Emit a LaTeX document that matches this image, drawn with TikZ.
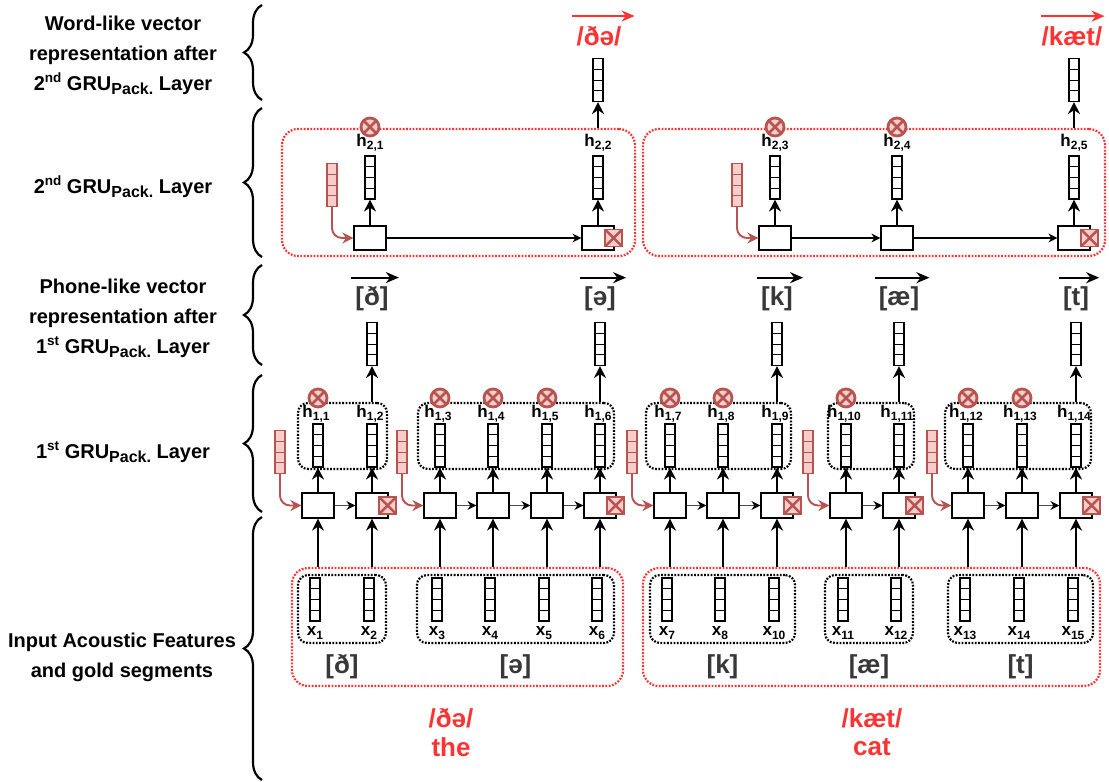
\documentclass[tikz,border=0pt]{standalone}
\usepackage{fontspec}
\setmainfont{Liberation Sans}
\usepackage{tikz}
\usetikzlibrary{arrows.meta, positioning, fit, decorations.pathreplacing}
\definecolor{darkred}{HTML}{B85450}
\definecolor{pinkfill}{HTML}{F8CECC}
\definecolor{wordred}{HTML}{FF3333}
\definecolor{phonegray}{HTML}{383838}
\newcommand{\vsub}[2]{#1\raisebox{-3.5pt}{\fontsize{12}{12}\selectfont #2}}
\newcommand{\supx}[1]{\raisebox{8pt}{\fontsize{13.5}{13.5}\selectfont #1}}
\newcommand{\subx}[1]{\raisebox{-4pt}{\fontsize{16}{16}\selectfont #1}}
\tikzset{
  gru cell/.style={
    draw, line width=1.2pt, fill=white,
    minimum width=32pt, minimum height=25pt, inner sep=0pt
  },
  vecbase/.style={
    draw=#1, line width=1.1pt,
    minimum width=10pt, minimum height=43pt, inner sep=0pt,
    path picture={
      \foreach \k in {1,2,3}
        \draw[#1, line width=1pt] ([yshift=-\k*10.75pt]path picture bounding box.north west)
          -- ([yshift=-\k*10.75pt]path picture bounding box.north east);
    }
  },
  vec/.style={vecbase=black, fill=white},
  init vec/.style={vecbase=darkred, fill=pinkfill},
  drop/.style={
    circle, draw=darkred, fill=pinkfill, line width=2.8pt,
    minimum size=18pt, inner sep=0pt,
    path picture={
      \draw[darkred, line width=2.8pt]
        (path picture bounding box.north west) -- (path picture bounding box.south east)
        (path picture bounding box.north east) -- (path picture bounding box.south west);
    }
  },
  reset/.style={
    draw=darkred, fill=pinkfill, line width=1.8pt,
    minimum size=17pt, inner sep=0pt,
    path picture={
      \draw[darkred, line width=2.4pt]
        (path picture bounding box.north west) -- (path picture bounding box.south east)
        (path picture bounding box.north east) -- (path picture bounding box.south west);
    }
  },
  up arr/.style={-{Stealth[length=12pt, width=12pt]}, line width=1.9pt},
  rec arr/.style={-{Stealth[length=9pt, width=9pt, color=black]}, line width=1.4pt, draw=black!70},
  top arr/.style={-{Stealth[length=9pt, width=9pt]}, line width=1.2pt},
  init arr/.style={-{Stealth[length=11pt, width=11pt]}, line width=1.9pt, darkred, rounded corners=10pt},
  over arr/.style={-{Stealth[length=13pt, width=11pt]}, line width=2pt},
  phone box/.style={draw, line width=2.2pt, dash pattern=on 1.8pt off 1.5pt, rounded corners=10pt, inner sep=0pt},
  word box/.style={draw=wordred, line width=2.2pt, dash pattern=on 1.8pt off 1.5pt, rounded corners=16pt, inner sep=0pt},
  side label/.style={font=\fontsize{20}{30}\selectfont\bfseries, align=center},
  side brace/.style={decorate, decoration={brace, amplitude=18pt}, line width=2.2pt},
  h label/.style={font=\fontsize{17}{17}\selectfont\bfseries, inner sep=0pt},
  phone label/.style={font=\fontsize{26}{26}\selectfont\bfseries, text=phonegray, inner sep=0pt},
  word label/.style={font=\fontsize{26}{26}\selectfont\bfseries, text=wordred, inner sep=0pt}
}

\begin{document}
\begin{tikzpicture}[x=1pt, y=-1pt]
  \useasboundingbox (0,0) rectangle (1109,782);

  % Side labels and braces
  \node[side label] (s1) at (123,55) {Word-like vector\\representation after\\2\supx{nd} GRU\subx{Pack.} Layer};
  \node[side label] (s2) at (123,187) {2\supx{nd} GRU\subx{Pack.} Layer};
  \node[side label] (s3) at (123,318) {Phone-like vector\\representation after\\1\supx{st} GRU\subx{Pack.} Layer};
  \node[side label] (s4) at (123,452) {1\supx{st} GRU\subx{Pack.} Layer};
  \node[side label] (s5) at (122,657) {Input Acoustic Features\\and gold segments};
  \draw[side brace] (262,100) -- (262,5);
  \draw[side brace] (262,257) -- (262,108);
  \draw[side brace] (262,365) -- (262,265);
  \draw[side brace] (262,512) -- (262,375);
  \draw[side brace] (262,780) -- (262,517);

  % Word and phone boxes
  \node[word box, fit={(282,129) (635,256)}] (r1) {};
  \node[word box, fit={(643,129) (1105,256)}] (r2) {};
  \node[phone box, fit={(298,403) (387,469)}] (g1) {};
  \node[phone box, fit={(418,403) (614,469)}] (g2) {};
  \node[phone box, fit={(646,403) (791,469)}] (g3) {};
  \node[phone box, fit={(828,403) (914,469)}] (g4) {};
  \node[phone box, fit={(945,403) (1091,469)}] (g5) {};
  \node[word box, fit={(292,568) (623,686)}] (w1) {};
  \node[word box, fit={(643,568) (1100,686)}] (w2) {};
  \node[phone box, fit={(298,575) (386,643)}] (b1) {};
  \node[phone box, fit={(417,575) (614,643)}] (b2) {};
  \node[phone box, fit={(650,575) (795,643)}] (b3) {};
  \node[phone box, fit={(825,575) (913,643)}] (b4) {};
  \node[phone box, fit={(948,575) (1093,643)}] (b5) {};

  % 1st layer: cells, hidden states, inputs
  \foreach \i/\x/\n in {1/318/1, 2/372/2, 3/440/3, 4/493/4, 5/547/5, 6/600/6, 7/670/7,
      8/723/8, 9/777/10, 10/846/11, 11/899/12, 12/968/13, 13/1022/14, 14/1076/15} {
    \node[gru cell] (c\i) at (\x,505.5) {};
    \node[vec] (h\i) at (\x,445.5) {};
    \node[h label] (hl\i) at (\x-2,414) {\vsub{h}{1,\i}};
    \node[vec] (x\i) at (\x-3,599.5) {};
    \node[h label] (xl\i) at (\x-3,633) {\vsub{x}{\n}};
    \draw[up arr] (c\i.north) -- (h\i.south);
    \draw[up arr] (c\i |- w1.north) -- (c\i.south);
  }
  \foreach \a/\b in {1/2, 3/4, 4/5, 5/6, 7/8, 8/9, 10/11, 12/13, 13/14}
    \draw[rec arr] (c\a) -- (c\b);
  \foreach \a/\p in {1/280, 3/402, 7/632, 10/808, 12/932} {
    \node[init vec] (p\a) at (\p,452) {};
    \draw[init arr] (p\a.south) |- (c\a.west);
  }
  \foreach \i in {1,3,4,5,7,8,10,12,13}
    \node[drop] at (c\i |- 0,398) {};

  % Phone-like outputs
  \foreach \b/\g/\ph in {2/1/ð, 6/2/ə, 9/3/k, 11/4/æ, 14/5/t} {
    \node[reset] at ([xshift=-1pt]c\b.east) {};
    \node[vec] (o\b) at (c\b |- 0,344) {};
    \draw[up arr] (c\b |- g\g.north) -- (o\b.south);
    \node[phone label] (ol\b) at (c\b |- 0,299) {[\ph]};
    \draw[over arr] ([xshift=-4pt, yshift=9pt]ol\b.north west) -- ([xshift=10pt, yshift=9pt]ol\b.north east);
  }

  % Gold segments
  \node[phone label, below=10pt of b1] {[ð]};
  \node[phone label, below=10pt of b2] {[ə]};
  \node[phone label, below=10pt of b3] {[k]};
  \node[phone label, below=10pt of b4] {[æ]};
  \node[phone label, below=10pt of b5] {[t]};
  \node[word label] (wt1) at (451,718) {/ðə/};
  \node[word label] at (451,747) {the};
  \node[word label] (wt2) at (872,718) {/kæt/};
  \node[word label] at (872,747) {cat};

  % 2nd layer
  \foreach \j/\x in {1/370, 2/598, 3/775, 4/897, 5/1074} {
    \node[gru cell, minimum height=24pt] (d\j) at (\x,238) {};
    \node[vec] (k\j) at (\x,177.5) {};
    \node[h label] at (\x,143) {\vsub{h}{2,\j}};
    \draw[up arr] (d\j.north) -- (k\j.south);
  }
  \draw[top arr] (d1) -- (d2);
  \draw[top arr] (d3) -- (d4);
  \draw[top arr] (d4) -- (d5);
  \node[init vec] (q1) at (332,185) {};
  \node[init vec] (q3) at (737,185) {};
  \draw[init arr] (q1.south) |- (d1.west);
  \draw[init arr] (q3.south) |- (d3.west);
  \node[reset] at ([xshift=-1pt]d2.east) {};
  \node[reset] at ([xshift=-1pt]d5.east) {};
  \foreach \j in {1,3,4}
    \node[drop] at (d\j |- 0,127) {};

  % Word-like outputs
  \node[vec] (v2) at (598,80) {};
  \node[vec] (v5) at (1074,80) {};
  \draw[up arr] (d2 |- r1.north) -- (v2.south);
  \draw[up arr] (d5 |- r2.north) -- (v5.south);
  \node[word label] (vl2) at (599,36) {/ðə/};
  \node[word label] (vl5) at (1072,36) {/kæt/};
  \draw[over arr, wordred] ([xshift=-4pt, yshift=10pt]vl2.north west) -- ([xshift=13pt, yshift=10pt]vl2.north east);
  \draw[over arr, wordred] ([xshift=0pt, yshift=10pt]vl5.north west) -- ([xshift=2pt, yshift=10pt]vl5.north east);
\end{tikzpicture}
\end{document}
